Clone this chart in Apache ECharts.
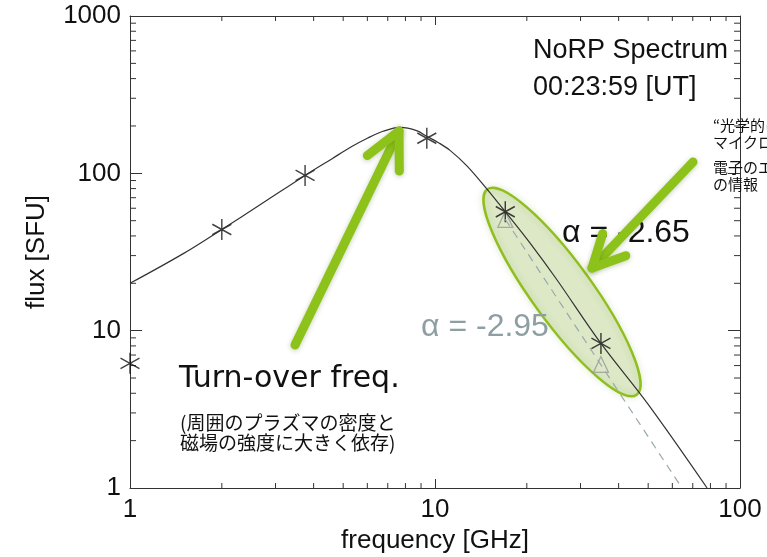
<!DOCTYPE html>
<html>
<head>
<meta charset="utf-8">
<title>NoRP Spectrum</title>
<script src="https://cdn.jsdelivr.net/npm/echarts@6.0.0/dist/echarts.min.js"></script>
<style>
  html, body { margin: 0; padding: 0; background: #fff; }
  #main { width: 767px; height: 557px; }
</style>
</head>
<body>
<div id="main"></div>
<script>
// NoRP 観測点 (GHz / SFU)
const obsFreq = [1, 2, 3.75, 9.4, 17, 35];
const obsFlux = [6.2, 44, 97, 167, 57, 8.3];
// 三角印
const triFreq = [17, 35];
const triFlux = [51, 6.1];
// フィット曲線
const fitFreq = [1, 1.5, 2, 2.7, 3.75, 4.6, 5.3, 6, 6.75, 7.7, 8.7, 9.4, 10.3, 11.2, 12.7, 14.6, 17, 20.5, 25, 35, 50, 78];
const fitFlux = [20, 31, 44, 64, 97, 124, 147, 167, 185, 196, 187, 172, 156, 140, 112, 82, 57, 36, 21.3, 8.3, 3.4, 1.0];
// α = -2.95 の破線
const dashFreq = [17, 64.5];
const dashFlux = [51, 1];
// 補助目盛り
const xMinor = [2, 3, 4, 5, 6, 7, 8, 9, 20, 30, 40, 50, 60, 70, 80, 90];
const yMinor = [2, 3, 4, 5, 6, 7, 8, 9, 20, 30, 40, 50, 60, 70, 80, 90, 200, 300, 400, 500, 600, 700, 800, 900];

const pair = (xs, ys) => xs.map((x, i) => [x, ys[i]]);

const GREEN = '#8cc21a';
const LABEL_FONT = 'Liberation Sans, Arial, sans-serif';

let myChart = echarts.init(document.getElementById('main'));

/*小さい目盛りを上下 / 左右に描く*/
function renderXMinor(params, api) {
  const rect = params.coordSys;
  const x = api.coord([api.value(0), 1])[0];
  const st = {stroke: '#333', lineWidth: 1};
  return {
    type: 'group',
    children: [
      {type: 'line', shape: {x1: x, y1: rect.y + rect.height, x2: x, y2: rect.y + rect.height - 5}, style: st},
      {type: 'line', shape: {x1: x, y1: rect.y, x2: x, y2: rect.y + 5}, style: st}
    ]
  };
}

function renderYMinor(params, api) {
  const rect = params.coordSys;
  const y = api.coord([1, api.value(1)])[1];
  const st = {stroke: '#333', lineWidth: 1};
  return {
    type: 'group',
    children: [
      {type: 'line', shape: {x1: rect.x, y1: y, x2: rect.x + 6, y2: y}, style: st},
      {type: 'line', shape: {x1: rect.x + rect.width, y1: y, x2: rect.x + rect.width - 6, y2: y}, style: st}
    ]
  };
}

// 矢印 (tail -> tip)
function arrow(x1, y1, x2, y2, head) {
  const ang = Math.atan2(y1 - y2, x1 - x2);
  const spread = 0.46;
  const b1 = [x2 + head * Math.cos(ang + spread), y2 + head * Math.sin(ang + spread)];
  const b2 = [x2 + head * Math.cos(ang - spread), y2 + head * Math.sin(ang - spread)];
  const style = {
    stroke: GREEN, lineWidth: 9, lineCap: 'round', lineJoin: 'round', fill: null,
    shadowBlur: 5, shadowColor: 'rgba(60,90,0,0.3)', shadowOffsetY: 1
  };
  return [
    {type: 'line', z: 30, shape: {x1: x1, y1: y1, x2: x2, y2: y2}, style: style},
    {type: 'polyline', z: 30, shape: {points: [b1, [x2, y2], b2]}, style: style}
  ];
}

function txt(text, x, y, font, color, z) {
  return {
    type: 'text', z: z || 5, x: x, y: y,
    style: {text: text, font: font, fill: color || '#111', verticalAlign: 'middle', align: 'left'}
  };
}

const axisBase = {
  type: 'log',
  logBase: 10,
  axisLine: {show: true, onZero: false, lineStyle: {color: '#333', width: 1}},
  splitLine: {show: false}
};

let option = {
  animation: false,
  backgroundColor: '#fff',
  grid: {left: 130, right: 27, top: 16, bottom: 69, containLabel: false, outerBoundsMode: 'none'},
  xAxis: [
    Object.assign({}, axisBase, {
      min: 1, max: 100, position: 'bottom',
      name: 'frequency [GHz]', nameLocation: 'middle', nameGap: 40,
      nameTextStyle: {fontFamily: LABEL_FONT, fontSize: 26, color: '#111'},
      axisTick: {inside: true, length: 9, lineStyle: {color: '#333'}},
      axisLabel: {fontFamily: LABEL_FONT, fontSize: 26, color: '#111', margin: 9,
        formatter: v => String(Math.round(v))}
    }),
    Object.assign({}, axisBase, {
      min: 1, max: 100, position: 'top',
      axisTick: {inside: true, length: 9, lineStyle: {color: '#333'}},
      axisLabel: {show: false}
    })
  ],
  yAxis: [
    Object.assign({}, axisBase, {
      min: 1, max: 1000, position: 'left',
      name: 'flux [SFU]', nameLocation: 'middle', nameGap: 80,
      nameTextStyle: {fontFamily: LABEL_FONT, fontSize: 26, color: '#111'},
      axisTick: {inside: true, length: 12, lineStyle: {color: '#333'}},
      axisLabel: {fontFamily: LABEL_FONT, fontSize: 26, color: '#111', margin: 9,
        formatter: v => String(Math.round(v))}
    }),
    Object.assign({}, axisBase, {
      min: 1, max: 1000, position: 'right',
      axisTick: {inside: true, length: 12, lineStyle: {color: '#333'}},
      axisLabel: {show: false}
    })
  ],
  series: [
    {
      type: 'custom', silent: true, renderItem: renderXMinor,
      data: xMinor.map(v => [v, 1])
    },
    {
      type: 'custom', silent: true, renderItem: renderYMinor,
      data: yMinor.map(v => [1, v])
    },
    {
      name: 'fit', type: 'line', silent: true,
      data: pair(fitFreq, fitFlux),
      showSymbol: false, smooth: 0.35,
      lineStyle: {color: '#333', width: 1.2}
    },
    {
      name: 'alpha -2.95', type: 'line', silent: true,
      data: pair(dashFreq, dashFlux),
      showSymbol: false,
      lineStyle: {color: '#9aa8ac', width: 1.2, type: [8, 6]}
    },
    {
      name: 'triangle', type: 'scatter', silent: true,
      data: pair(triFreq, triFlux),
      symbol: 'triangle', symbolSize: [15, 16],
      itemStyle: {color: 'rgba(0,0,0,0)', borderColor: '#999', borderWidth: 1.3}
    },
    {
      name: 'NoRP', type: 'scatter', silent: true,
      data: pair(obsFreq, obsFlux),
      symbol: 'path://M10,0 L10,20 M1.34,5 L18.66,15 M1.34,15 L18.66,5',
      symbolSize: [19, 21],
      itemStyle: {color: 'rgba(0,0,0,0)', borderColor: '#111', borderWidth: 1.5}
    }
  ],
  graphic: [
    // 注目領域の楕円
    {
      type: 'ellipse', z: 1, x: 562, y: 292, rotation: -54 * Math.PI / 180,
      shape: {cx: 0, cy: 0, rx: 127, ry: 30},
      style: {fill: 'rgba(170,200,110,0.3)', stroke: '#8fbf1f', lineWidth: 2.5,
        shadowBlur: 6, shadowColor: 'rgba(120,160,40,0.3)'}
    },
    txt('NoRP Spectrum', 533, 51, '27px ' + LABEL_FONT, '#111'),
    txt('00:23:59 [UT]', 533, 88, '27px ' + LABEL_FONT, '#111'),
    txt('α = -2.65', 562, 233, '32px ' + LABEL_FONT, '#111', 0),
    txt('α = -2.95', 421, 327, '32px ' + LABEL_FONT, '#8e9fa3', 0),
    txt('Turn-over freq.', 179, 379, '30px DejaVu Sans', '#111'),
    txt('(周囲のプラズマの密度と', 180, 423, '19px Noto Sans CJK JP', '#111'),
    txt('磁場の強度に大きく依存)', 180, 443, '19px Noto Sans CJK JP', '#111'),
    txt('“光学的に薄い”', 713, 125, '15px Noto Sans CJK JP', '#111'),
    txt('マイクロ波', 713, 142, '15px Noto Sans CJK JP', '#111'),
    txt('電子のエネルギー', 713, 167, '15px Noto Sans CJK JP', '#111'),
    txt('の情報', 713, 184, '15px Noto Sans CJK JP', '#111')
  ].concat(arrow(295, 345, 399, 131, 40), arrow(693, 162, 592, 268, 36))
};

myChart.setOption(option);

window.onresize = myChart.resize;
</script>
</body>
</html>
